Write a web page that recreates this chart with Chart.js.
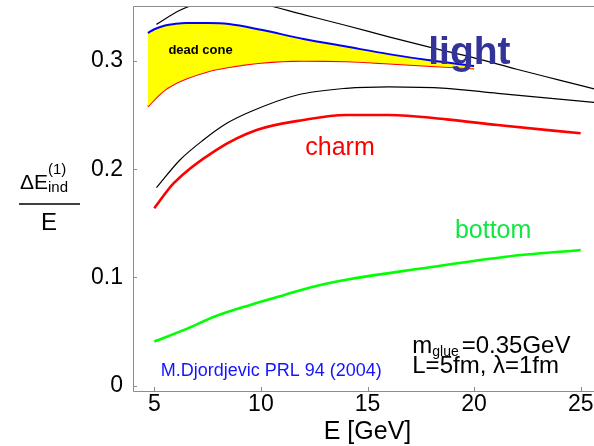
<!DOCTYPE html>
<html><head><meta charset="utf-8">
<script src="https://cdn.jsdelivr.net/npm/chart.js@4.4.0/dist/chart.umd.min.js"></script>
<style>
html,body{margin:0;padding:0;background:#fff;overflow:hidden}
#wrap{width:594px;height:446px;overflow:hidden}
</style></head><body>
<div id="wrap"><canvas id="c" width="604" height="446"></canvas></div>
<script>
// ── axis ticks ──
const xTicks = [5, 10, 15, 20, 25];
const yTicks = [0, 0.1, 0.2, 0.3];

// ── light quark: dead cone band (blue top, red bottom) ──
const coneE      = [4.7, 5.0, 5.5, 6.0, 6.5, 7.5, 8.5, 10, 12, 14, 16, 18, 20];
const coneTop    = [0.326, 0.3295, 0.333, 0.3345, 0.3352, 0.3352, 0.3343, 0.329, 0.3205, 0.3135, 0.3065, 0.3005, 0.2955];
const coneBottom = [0.258, 0.2645, 0.2735, 0.2795, 0.284, 0.2905, 0.2945, 0.2985, 0.3003, 0.2998, 0.2978, 0.2955, 0.2933];

// ── thin black reference curves ──
const lightRefE = [5.1, 6.2, 7, 8.5, 10, 12, 14, 16, 18, 20, 22, 24, 26];
const lightRef  = [0.334, 0.347, 0.353, 0.357, 0.353, 0.343, 0.333, 0.3225, 0.3125, 0.303, 0.2925, 0.2825, 0.2725];
const charmRefE = [5.1, 6.2, 7.3, 8.4, 9.5, 11.7, 14, 16, 18.7, 21.1, 26];
const charmRef  = [0.183, 0.2086, 0.2271, 0.2425, 0.2532, 0.2687, 0.2749, 0.2763, 0.2749, 0.2702, 0.2612];

// ── charm and bottom ──
const charmE  = [5, 5.9, 7.9, 9.8, 12, 14, 16, 18.7, 21.1, 25];
const charm   = [0.164, 0.187, 0.2178, 0.2363, 0.2456, 0.2502, 0.2502, 0.2462, 0.2409, 0.2333];
const bottomE = [5, 6.4, 7.9, 9.5, 11.1, 12.6, 14.2, 17.6, 21.5, 25];
const bottom  = [0.0407, 0.0515, 0.0644, 0.0746, 0.0838, 0.0921, 0.0985, 0.1085, 0.1192, 0.1254];

const pts = (xs, ys) => xs.map((x, i) => ({x, y: ys[i]}));
const FONT = '"Liberation Sans", Arial, sans-serif';

const line = (data, color, width, extra) => Object.assign({
  data, borderColor: color, borderWidth: width, pointRadius: 0,
  cubicInterpolationMode: 'monotone', fill: false
}, extra || {});

// frame, inward ticks and all text
const decor = {
  id: 'decor',
  afterDatasetsDraw(chart) {
    const {ctx, chartArea: a, scales: {x, y}} = chart;
    ctx.save();
    ctx.strokeStyle = '#8c8c8c'; ctx.lineWidth = 1;
    ctx.beginPath();
    ctx.moveTo(a.right + 5, a.top + 0.5); ctx.lineTo(a.left + 0.5, a.top + 0.5);
    ctx.lineTo(a.left + 0.5, a.bottom + 0.5); ctx.lineTo(a.right + 5, a.bottom + 0.5);
    xTicks.forEach(v => { const px = Math.round(x.getPixelForValue(v)) + 0.5; ctx.moveTo(px, a.bottom); ctx.lineTo(px, a.bottom - 4); });
    yTicks.forEach(v => { const py = Math.round(y.getPixelForValue(v)) + 0.5; ctx.moveTo(a.left, py); ctx.lineTo(a.left + 4, py); });
    ctx.stroke();

    const txt = (s, px, py, font, color, align) => {
      ctx.font = font; ctx.fillStyle = color; ctx.textAlign = align || 'left'; ctx.textBaseline = 'alphabetic';
      ctx.fillText(s, px, py);
      return ctx.measureText(s).width;
    };
    txt('dead cone', x.getPixelForValue(5.66), y.getPixelForValue(0.3065), 'bold 13px ' + FONT, '#000');
    txt('light', x.getPixelForValue(17.85), y.getPixelForValue(0.2975), 'bold 39px ' + FONT, '#333399');
    txt('charm', x.getPixelForValue(12.08), y.getPixelForValue(0.2132), '25px ' + FONT, '#ff0000');
    txt('bottom', x.getPixelForValue(19.1), y.getPixelForValue(0.1365), '25px ' + FONT, '#11e644');
    txt('M.Djordjevic PRL 94 (2004)', x.getPixelForValue(5.3), y.getPixelForValue(0.009), '18px ' + FONT, '#1414ff');

    // m_glue / L, lambda block
    let mx = x.getPixelForValue(17.1), my = y.getPixelForValue(0.0305);
    mx += txt('m', mx, my, '24px ' + FONT, '#000');
    mx += txt('glue', mx, my + 3, '14px ' + FONT, '#000') + 3;
    txt('=0.35GeV', mx, my, '24px ' + FONT, '#000');
    txt('L=5fm, \u03bb=1fm', x.getPixelForValue(17.1), y.getPixelForValue(0.0115), '24px ' + FONT, '#000');

    // axis titles
    txt('E [GeV]', x.getPixelForValue(15), 439, '25px ' + FONT, '#000', 'center');
    const dw = txt('\u0394E', 20, 189, '21px ' + FONT, '#000');
    txt('(1)', 20 + dw, 174, '15px ' + FONT, '#000');
    txt('ind', 20 + dw, 192, '15px ' + FONT, '#000');
    ctx.beginPath(); ctx.strokeStyle = '#000'; ctx.lineWidth = 1.5;
    ctx.moveTo(19, 204); ctx.lineTo(80, 204); ctx.stroke();
    txt('E', 49, 230, '24px ' + FONT, '#000', 'center');
    ctx.restore();
  }
};

new Chart(document.getElementById('c'), {
  type: 'line',
  data: {
    datasets: [
      line(pts(coneE, coneTop), '#0000ff', 2, {fill: '+1', backgroundColor: '#ffff00'}),
      line(pts(coneE, coneBottom), '#ff0000', 2),
      line(pts(lightRefE, lightRef), '#000', 1.2),
      line(pts(charmRefE, charmRef), '#000', 1.2),
      line(pts(charmE, charm), '#ff0000', 2.6),
      line(pts(bottomE, bottom), '#00ff00', 2.6)
    ]
  },
  options: {
    responsive: false, animation: false, devicePixelRatio: 1,
    layout: {padding: {top: 6, right: 2, left: 0, bottom: 0}},
    plugins: {legend: {display: false}, tooltip: {enabled: false}},
    scales: {
      x: {
        type: 'linear', min: 4, max: 26,
        afterFit: s => { s.height = 55; s.paddingLeft = 0; s.paddingRight = 0; },
        afterBuildTicks: s => { s.ticks = xTicks.map(v => ({value: v})); },
        grid: {display: false, drawTicks: false}, border: {display: false},
        ticks: {padding: 0, color: '#000', font: {family: FONT, size: 23}, maxRotation: 0}
      },
      y: {
        type: 'linear', min: -0.005, max: 0.351,
        afterFit: s => { s.width = 133; s.paddingTop = 0; s.paddingBottom = 0; },
        afterBuildTicks: s => { s.ticks = yTicks.map(v => ({value: v})); },
        grid: {display: false, drawTicks: false}, border: {display: false},
        ticks: {padding: 10, color: '#000', font: {family: FONT, size: 23}, callback: v => String(v)}
      }
    }
  },
  plugins: [decor]
});
</script>
</body></html>
